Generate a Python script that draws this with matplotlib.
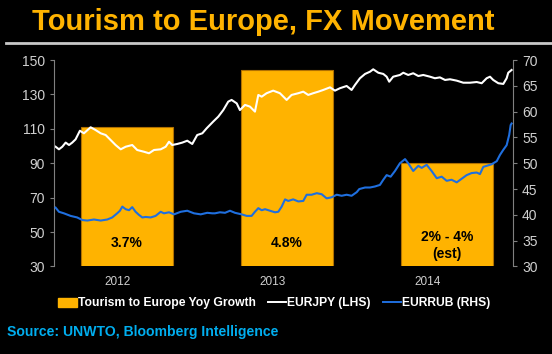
import matplotlib
matplotlib.use("Agg")
import matplotlib.pyplot as plt
from matplotlib.patches import Patch
from matplotlib.lines import Line2D

plt.rcParams["font.family"] = ["Liberation Sans", "DejaVu Sans"]

# --- Daten ---
year_labels = ["2012", "2013", "2014"]
year_tick_pos = [2012.39, 2013.36, 2014.33]

bar_pos = [2012.45, 2013.45, 2014.45]
bar_growth = [3.7, 4.8, 3.0]          # Tourism to Europe YoY growth, %
bar_text = ["3.7%", "4.8%", "2% - 4%\n(est)"]

jpy_t = [2012.004, 2012.025, 2012.046, 2012.067, 2012.088, 2012.108, 2012.129,
         2012.156, 2012.181, 2012.223, 2012.254, 2012.286, 2012.317, 2012.348,
         2012.379, 2012.411, 2012.442, 2012.483, 2012.514, 2012.556, 2012.588,
         2012.619, 2012.661, 2012.692, 2012.713, 2012.733, 2012.764, 2012.796,
         2012.827, 2012.858, 2012.889, 2012.921, 2012.948, 2012.989, 2013.021,
         2013.052, 2013.083, 2013.104, 2013.136, 2013.156, 2013.188, 2013.219,
         2013.250, 2013.271, 2013.292, 2013.323, 2013.364, 2013.406, 2013.448,
         2013.479, 2013.521, 2013.552, 2013.583, 2013.614, 2013.646, 2013.677,
         2013.719, 2013.750, 2013.781, 2013.823, 2013.854, 2013.875, 2013.906,
         2013.938, 2013.969, 2013.989, 2014.021, 2014.052, 2014.073, 2014.089,
         2014.114, 2014.156, 2014.177, 2014.208, 2014.239, 2014.271, 2014.302,
         2014.344, 2014.375, 2014.406, 2014.438, 2014.469, 2014.511, 2014.552,
         2014.594, 2014.636, 2014.667, 2014.698, 2014.719, 2014.739, 2014.771,
         2014.802, 2014.823, 2014.833, 2014.854]
jpy_v = [99.6, 98.1, 99.6, 102.0, 100.6, 102.0, 103.9,
         108.9, 107.4, 110.9, 109.3, 107.4, 106.4, 103.5,
         100.6, 98.1, 99.6, 100.6, 97.7, 96.7, 95.8,
         97.7, 98.1, 99.6, 102.5, 100.6, 101.2, 102.0,
         103.1, 101.2, 106.4, 107.4, 110.3, 114.2, 117.1,
         120.9, 125.8, 126.8, 124.8, 120.9, 123.9, 122.9,
         120.0, 129.7, 128.7, 130.7, 132.2, 130.7, 126.8,
         129.7, 130.7, 131.6, 129.7, 130.7, 131.6, 132.6,
         134.1, 132.2, 133.6, 134.9, 132.6, 135.5, 139.4,
         141.9, 143.2, 144.6, 142.6, 141.9, 140.3, 137.4,
         140.3, 141.3, 142.6, 141.3, 142.3, 140.7, 141.3,
         140.3, 139.4, 139.9, 138.4, 138.8, 138.0, 136.8,
         136.8, 137.2, 136.5, 139.4, 140.3, 138.4, 136.5,
         136.1, 139.4, 142.6, 144.2]

rub_t = [2012.004, 2012.025, 2012.056, 2012.098, 2012.139, 2012.171, 2012.202,
         2012.244, 2012.286, 2012.327, 2012.358, 2012.389, 2012.406, 2012.421,
         2012.442, 2012.463, 2012.483, 2012.504, 2012.525, 2012.546, 2012.567,
         2012.598, 2012.629, 2012.661, 2012.681, 2012.713, 2012.744, 2012.786,
         2012.827, 2012.869, 2012.911, 2012.952, 2012.983, 2013.000, 2013.031,
         2013.063, 2013.094, 2013.125, 2013.167, 2013.198, 2013.229, 2013.250,
         2013.271, 2013.292, 2013.313, 2013.344, 2013.375, 2013.396, 2013.417,
         2013.438, 2013.458, 2013.489, 2013.521, 2013.552, 2013.573, 2013.604,
         2013.636, 2013.667, 2013.698, 2013.729, 2013.761, 2013.792, 2013.823,
         2013.854, 2013.886, 2013.902, 2013.938, 2013.969, 2014.000, 2014.031,
         2014.052, 2014.073, 2014.098, 2014.125, 2014.156, 2014.188, 2014.208,
         2014.239, 2014.271, 2014.292, 2014.323, 2014.354, 2014.386, 2014.417,
         2014.448, 2014.479, 2014.511, 2014.542, 2014.573, 2014.604, 2014.636,
         2014.656, 2014.677, 2014.698, 2014.729, 2014.761, 2014.781, 2014.802,
         2014.823, 2014.839, 2014.848, 2014.854]
rub_v = [41.4, 40.6, 40.3, 39.8, 39.5, 39.0, 38.9,
         39.1, 38.9, 39.1, 39.5, 40.3, 40.8, 41.6,
         41.1, 40.9, 41.5, 40.6, 40.0, 39.5, 39.6,
         39.5, 39.8, 40.6, 40.3, 40.5, 40.1, 40.6,
         40.8, 40.3, 40.1, 40.4, 40.3, 40.3, 40.5,
         40.4, 40.8, 40.4, 40.1, 39.8, 39.8, 40.6,
         41.3, 40.9, 41.1, 40.8, 40.5, 40.6, 41.6,
         43.0, 42.7, 43.0, 42.6, 42.7, 43.9, 43.9,
         44.2, 44.0, 43.2, 43.4, 43.9, 43.7, 43.9,
         43.7, 44.4, 45.0, 45.3, 45.3, 45.5, 45.8,
         46.8, 47.7, 47.4, 48.5, 50.0, 50.8, 50.0,
         48.5, 49.5, 49.1, 49.7, 48.5, 47.1, 47.4,
         46.6, 46.8, 46.3, 47.0, 47.7, 48.1, 48.2,
         47.9, 49.3, 49.5, 49.8, 50.4, 51.6, 52.6,
         53.5, 55.5, 57.4, 57.7]

orange = "#FFB300"
blue = "#1F6FDF"
grey = "#D0D0D0"

fig = plt.figure(figsize=(5.52, 3.54), dpi=100, facecolor="black")

# Titel + Linie
fig.text(0.477, 0.937, "Tourism to Europe, FX Movement", color=orange,
         fontsize=21, fontweight="bold", ha="center", va="center")
fig.add_artist(Line2D([0.01, 1.0], [0.878, 0.878], color="#C8C8C8", lw=2))

# Balken-Achse (unsichtbar)
ax = fig.add_axes([0.0978, 0.2472, 0.8315, 0.5833])
ax.set_facecolor("black")
ax.bar(bar_pos, bar_growth, width=0.58, bottom=0, color=orange,
       edgecolor="#B07000", linewidth=0.8)
ax.set_ylim(1.0, 5.0)
ax.set_xlim(2011.994, 2014.8625)
ax.set_yticks([])
for s in ax.spines.values():
    s.set_visible(False)
ax.set_xticks(year_tick_pos)
ax.set_xticklabels(year_labels)
ax.tick_params(axis="x", length=0, colors=grey, labelsize=8.5, pad=7)
for x, txt in zip(bar_pos, bar_text):
    yy = 0.10 if "\n" in txt else 0.115
    ax.text(x, yy, txt, transform=ax.get_xaxis_transform(), ha="center",
            va="center", fontsize=10, fontweight="bold", color="black",
            linespacing=1.3)

# EURJPY links
axl = ax.twinx()
axl.plot(jpy_t, jpy_v, color="white", lw=1.5)
axl.set_ylim(30, 150)
axl.set_yticks(range(30, 151, 20))
axl.yaxis.tick_left()
axl.tick_params(axis="y", colors="#808080", labelcolor=grey, labelsize=10,
                length=3, direction="out")

# EURRUB rechts
axr = ax.twinx()
axr.plot(rub_t, rub_v, color=blue, lw=1.5)
axr.set_ylim(30, 70)
axr.set_yticks(range(30, 71, 5))
axr.tick_params(axis="y", colors="#808080", labelcolor=grey, labelsize=10,
                length=3, direction="out")

for a in (axl, axr):
    for k in ("top", "bottom"):
        a.spines[k].set_visible(False)
    a.spines["left"].set_color("#808080")
    a.spines["right"].set_color("#808080")
axl.spines["right"].set_visible(False)
axr.spines["left"].set_visible(False)

handles = [Patch(facecolor=orange, edgecolor=orange),
           Line2D([], [], color="white", lw=1.4),
           Line2D([], [], color=blue, lw=1.4)]
labels = ["Tourism to Europe Yoy Growth", "EURJPY (LHS)", "EURRUB (RHS)"]
leg = fig.legend(handles, labels, loc="center", bbox_to_anchor=(0.497, 0.143),
                 ncol=3, frameon=False, fontsize=8.7, handlelength=1.5,
                 handletextpad=0.1, columnspacing=1.0, handleheight=0.8)
for t in leg.get_texts():
    t.set_color("white")
    t.set_fontweight("bold")

fig.text(0.013, 0.063, "Source: UNWTO, Bloomberg Intelligence", color="#00AEEF",
         fontsize=10.1, fontweight="bold", ha="left", va="center")

fig.savefig("out.png", dpi=100, facecolor="black")
